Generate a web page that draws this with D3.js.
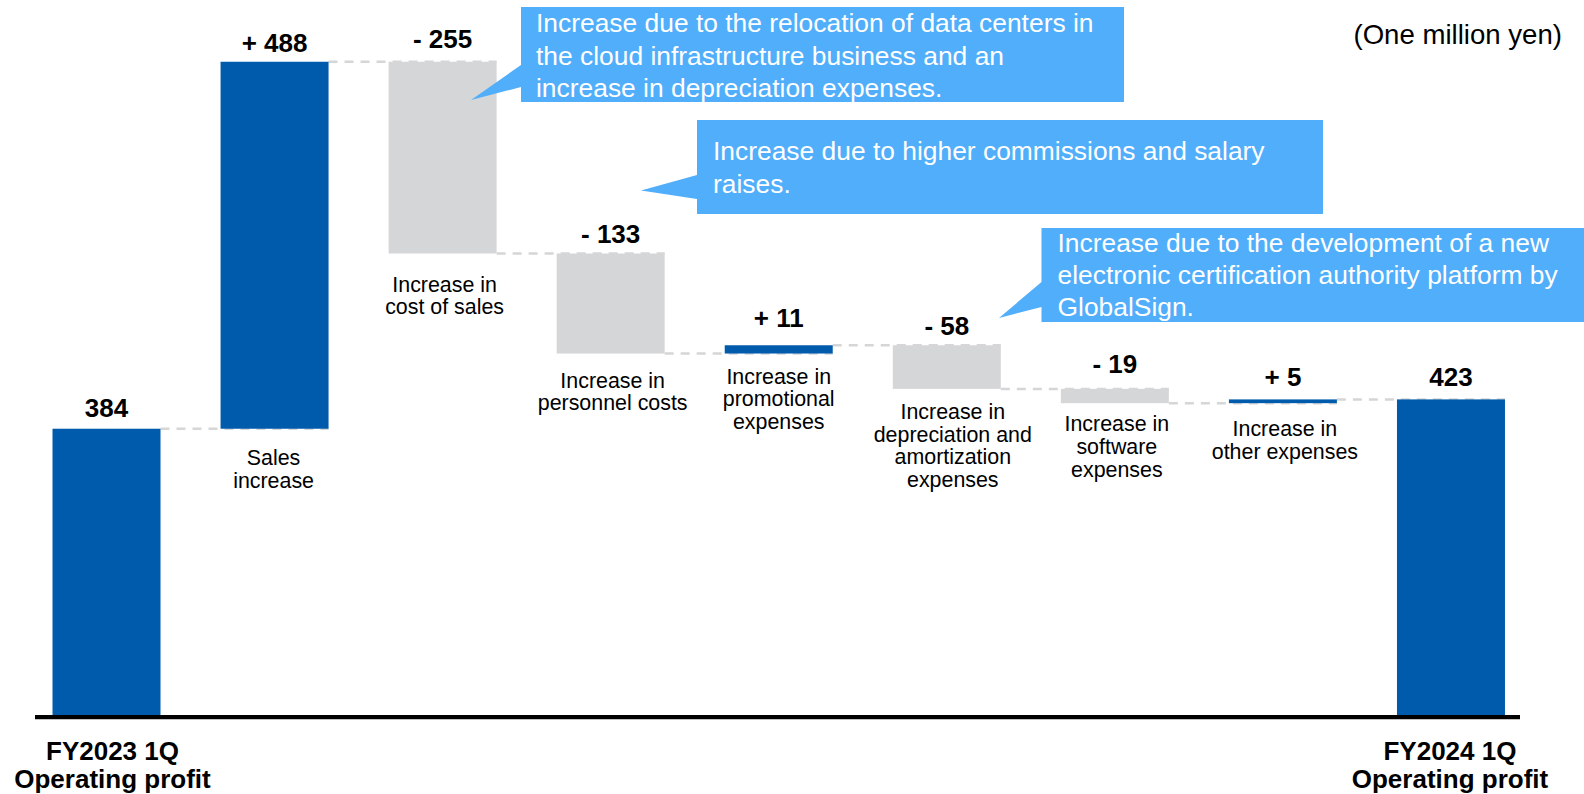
<!DOCTYPE html>
<html>
<head>
<meta charset="utf-8">
<script src="https://cdn.jsdelivr.net/npm/d3@7"></script>
<style>
  html, body { margin: 0; padding: 0; background: #ffffff; }
  svg { display: block; font-family: "Liberation Sans", Arial, Helvetica, sans-serif; }
</style>
</head>
<body>
<svg id="chart" width="1584" height="794"></svg>
<script>
// ---- Data (one million yen) ----
const categories = [
  "FY2023 1Q|Operating profit",
  "Sales|increase",
  "Increase in|cost of sales",
  "Increase in|personnel costs",
  "Increase in|promotional|expenses",
  "Increase in|depreciation and|amortization|expenses",
  "Increase in|software|expenses",
  "Increase in|other expenses",
  "FY2024 1Q|Operating profit"
];
const values = [384, 488, -255, -133, 11, -58, -19, 5, 423];
const kinds  = ["total", "delta", "delta", "delta", "delta", "delta", "delta", "delta", "total"];
const unitLabel = "(One million yen)";

const noteTexts = [
  ["Increase due to the relocation of data centers in",
   "the cloud infrastructure business and an",
   "increase in depreciation expenses."],
  ["Increase due to higher commissions and salary",
   "raises."],
  ["Increase due to the development of a new",
   "electronic certification authority platform by",
   "GlobalSign."]
];

// ---- Layout ----
const BLUE = "#005BAC", GRAY = "#D5D6D8", NOTE = "#50AEFB", DASH = "#D6D6D6";

// per-step fine tuning of label placement
const valueGap = [12, 9.5, 14, 10.5, 18, 10.7, 15.6, 13.8, 13];
const catGap   = [0, 36, 38, 34, 30, 30, 28, 33, 0];
const catDx    = [6, -1, 2, 2, 0, 6, 2, 2, -1];

const noteLayout = [
  { x: 521,    y: 7,   w: 603, h: 95, tip: [471, 100],   base: [65, 87],   tx: 536,    first: 25.3, lh: 32.3 },
  { x: 697,    y: 120, w: 626, h: 94, tip: [641, 190.5], base: [175, 199], tx: 713,    first: 40.2, lh: 32.4 },
  { x: 1041.5, y: 228, w: 543, h: 94, tip: [999, 318],   base: [282, 307], tx: 1057.5, first: 24,   lh: 32.2 }
];

const svg = d3.select("#chart");

// ---- Waterfall steps ----
let running = 0;
const steps = values.map((v, i) => {
  let start, end;
  if (kinds[i] === "total") { start = 0; end = v; running = v; }
  else { start = running; end = running + v; running = end; }
  return { i, cat: categories[i], v, kind: kinds[i], start, end };
});

const x = d3.scaleBand()
  .domain(d3.range(categories.length))
  .range([22.47, 1535])
  .paddingInner(0.3574)
  .paddingOuter(0.1787);

const y = d3.scaleLinear().domain([0, 950]).range([717.5, 3.1]);

// ---- Dashed connectors between consecutive steps ----
const conn = svg.append("g");
steps.slice(0, -1).forEach((s, i) => {
  conn.append("line")
    .attr("x1", x(i) + x.bandwidth())
    .attr("x2", x(i + 1) + x.bandwidth())
    .attr("y1", y(s.end))
    .attr("y2", y(s.end))
    .attr("stroke", DASH)
    .attr("stroke-width", 2.5)
    .attr("stroke-dasharray", "9,7");
});

// ---- Bars ----
svg.append("g").selectAll("rect")
  .data(steps)
  .join("rect")
  .attr("x", d => x(d.i))
  .attr("width", x.bandwidth())
  .attr("y", d => y(Math.max(d.start, d.end)))
  .attr("height", d => Math.abs(y(d.start) - y(d.end)))
  .attr("fill", d => (d.kind === "total" || d.v > 0) ? BLUE : GRAY);

// ---- Baseline axis ----
svg.append("line")
  .attr("x1", 35).attr("x2", 1520)
  .attr("y1", y(0) - 0.3).attr("y2", y(0) - 0.3)
  .attr("stroke", "#000").attr("stroke-width", 4.3);

// ---- Value labels ----
const fmt = d => d.kind === "total" ? String(d.v) : (d.v > 0 ? "+ " : "- ") + Math.abs(d.v);
svg.append("g").selectAll("text")
  .data(steps)
  .join("text")
  .attr("x", d => x(d.i) + x.bandwidth() / 2)
  .attr("y", d => y(Math.max(d.start, d.end)) - valueGap[d.i])
  .attr("text-anchor", "middle")
  .attr("font-size", 26)
  .attr("font-weight", "bold")
  .attr("fill", "#000")
  .text(fmt);

// ---- Category labels ----
const catG = svg.append("g");
steps.forEach(d => {
  const lines = d.cat.split("|");
  const cx = x(d.i) + x.bandwidth() / 2 + catDx[d.i];
  if (d.kind === "total") {
    const t = catG.append("text")
      .attr("text-anchor", "middle")
      .attr("font-size", 26)
      .attr("font-weight", "bold")
      .attr("fill", "#000");
    lines.forEach((ln, k) => {
      t.append("tspan").attr("x", cx).attr("y", 759.5 + k * 28.5).text(ln);
    });
  } else {
    const bottom = y(Math.min(d.start, d.end));
    const t = catG.append("text")
      .attr("text-anchor", "middle")
      .attr("font-size", 21.4)
      .attr("fill", "#000");
    lines.forEach((ln, k) => {
      t.append("tspan").attr("x", cx).attr("y", bottom + catGap[d.i] + k * 22.8).text(ln);
    });
  }
});

// ---- Unit ----
svg.append("text")
  .attr("x", 1562).attr("y", 43.5)
  .attr("text-anchor", "end")
  .attr("font-size", 27.6)
  .attr("fill", "#000")
  .text(unitLabel);

// ---- Callout notes ----
const notes = svg.append("g");
noteTexts.forEach((lines, i) => {
  const L = noteLayout[i];
  const p = d3.path();
  p.moveTo(L.x, L.y);
  p.lineTo(L.x + L.w, L.y);
  p.lineTo(L.x + L.w, L.y + L.h);
  p.lineTo(L.x, L.y + L.h);
  p.lineTo(L.x, L.base[1]);
  p.lineTo(L.tip[0], L.tip[1]);
  p.lineTo(L.x, L.base[0]);
  p.closePath();
  notes.append("path").attr("d", p.toString()).attr("fill", NOTE);
  const t = notes.append("text")
    .attr("font-size", 26.4)
    .attr("fill", "#ffffff");
  lines.forEach((ln, k) => {
    t.append("tspan").attr("x", L.tx).attr("y", L.y + L.first + k * L.lh).text(ln);
  });
});
</script>
</body>
</html>
